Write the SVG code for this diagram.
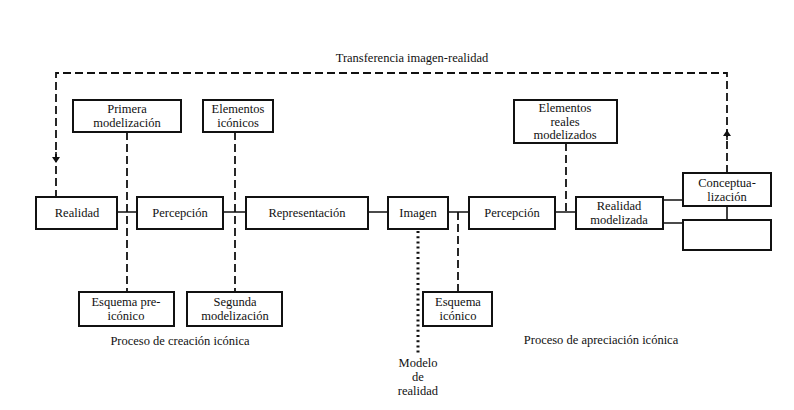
<svg xmlns="http://www.w3.org/2000/svg" width="794" height="410" viewBox="0 0 794 410">
<style>
.box{fill:#fff;stroke:#111;stroke-width:2}
.t{font-family:"Liberation Serif","Times New Roman",serif;font-size:12.5px;fill:#111;text-anchor:middle}
.ln{stroke:#111;stroke-width:1.6;fill:none}
.da{stroke:#111;stroke-width:1.8;fill:none;stroke-dasharray:8 4}
.dt{stroke:#111;stroke-width:3;fill:none;stroke-dasharray:2 3.2}
</style>
<defs>
<marker id="arr" markerWidth="6" markerHeight="8" refX="3" refY="4" orient="auto" markerUnits="userSpaceOnUse" viewBox="0 0 6 8">
<path d="M0,0 L6,4 L0,8 Z" fill="#111"/>
</marker>
</defs>
<rect width="794" height="410" fill="#fff"/>
<g id="connectors">
<path class="da" d="M727,173 V73 H56 V197"/>
<path class="ln" d="M727,140 V133" marker-end="url(#arr)"/>
<path class="ln" d="M56,152 V160" marker-end="url(#arr)"/>
<path class="ln" d="M117,212 H137 M223,212 H246 M368,212 H388 M448,212 H469 M555,212 H576"/>
<path class="ln" d="M663,200 H683 M663,223 H683 M727,206 V220"/>
<path class="da" d="M127,132 V292"/>
<path class="da" d="M235,132 V292"/>
<path class="da" d="M566,143 V212"/>
<path class="da" d="M458,212 V292"/>
<path class="dt" d="M418,231 V355"/>
</g>
<text class="t" x="412" y="62">Transferencia imagen-realidad</text>
<g id="realidad"><rect class="box" x="36" y="197" width="81" height="32"/><text class="t" x="77" y="217">Realidad</text></g>
<g id="percepcion1"><rect class="box" x="137" y="197" width="86" height="32"/><text class="t" x="180" y="217">Percepción</text></g>
<g id="representacion"><rect class="box" x="246" y="197" width="122" height="32"/><text class="t" x="307" y="217">Representación</text></g>
<g id="imagen"><rect class="box" x="388" y="197" width="60" height="32"/><text class="t" x="418" y="217">Imagen</text></g>
<g id="percepcion2"><rect class="box" x="469" y="197" width="86" height="32"/><text class="t" x="512" y="217">Percepción</text></g>
<g id="realidad-modelizada"><rect class="box" x="576" y="197" width="87" height="32"/><text class="t" x="619" y="210">Realidad</text><text class="t" x="619" y="224">modelizada</text></g>
<g id="conceptualizacion"><rect class="box" x="683" y="173" width="88" height="33"/><text class="t" x="727" y="186.5">Conceptua-</text><text class="t" x="727" y="200.5">lización</text></g>
<g id="vacio"><rect class="box" x="683" y="220" width="88" height="30"/></g>
<g id="primera-modelizacion"><rect class="box" x="73" y="100" width="108" height="32"/><text class="t" x="127" y="113">Primera</text><text class="t" x="127" y="127">modelización</text></g>
<g id="elementos-iconicos"><rect class="box" x="203" y="100" width="70" height="32"/><text class="t" x="238" y="113">Elementos</text><text class="t" x="238" y="127">icónicos</text></g>
<g id="elementos-reales"><rect class="box" x="514" y="100" width="103" height="43"/><text class="t" x="565" y="112">Elementos</text><text class="t" x="565" y="125.5">reales</text><text class="t" x="565" y="139">modelizados</text></g>
<g id="esquema-preiconico"><rect class="box" x="79" y="292" width="95" height="34"/><text class="t" x="126" y="306">Esquema pre-</text><text class="t" x="126" y="320">icónico</text></g>
<g id="segunda-modelizacion"><rect class="box" x="187" y="292" width="95" height="34"/><text class="t" x="235" y="306">Segunda</text><text class="t" x="235" y="320">modelización</text></g>
<g id="esquema-iconico"><rect class="box" x="423" y="292" width="69" height="34"/><text class="t" x="458" y="306">Esquema</text><text class="t" x="458" y="320">icónico</text></g>
<text class="t" x="180" y="345">Proceso de creación icónica</text>
<text class="t" x="601" y="344">Proceso de apreciación icónica</text>
<g id="modelo-realidad"><text class="t" x="418" y="367">Modelo</text><text class="t" x="418" y="381">de</text><text class="t" x="418" y="395">realidad</text></g>
</svg>
